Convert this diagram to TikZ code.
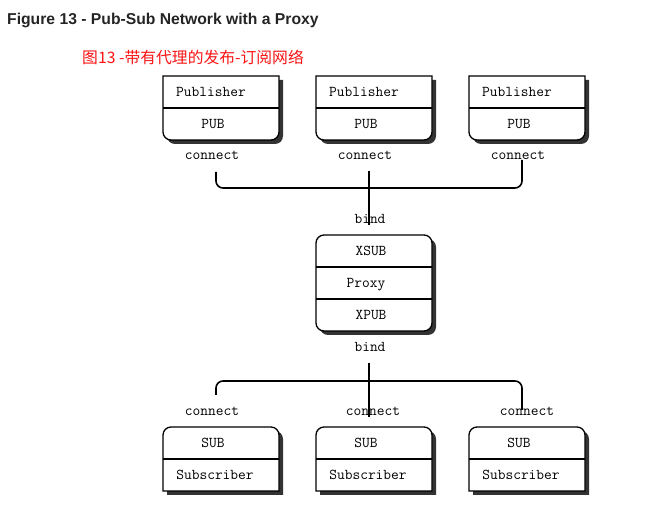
\documentclass[tikz,border=0pt]{standalone}
\usepackage{fontspec}
\setmainfont{Liberation Sans}
\newfontfamily\cjk{Noto Sans CJK SC}
\usetikzlibrary{positioning,calc}
\definecolor{inkgray}{RGB}{36,36,36}
\definecolor{cjkred}{RGB}{250,20,20}
\begin{document}
\begin{tikzpicture}[x=1pt, y=1pt,
  frame/.style={draw=black, line width=1.3pt, fill=white},
  shade/.style={fill=black!80, draw=none},
  cell/.style={font=\ttfamily\fontsize{15}{17}\selectfont, inner sep=0pt},
  lbl/.style={font=\ttfamily\fontsize{15}{17}\selectfont, inner sep=0pt},
  wire/.style={line width=1.6pt, rounded corners=7pt},
  stem/.style={line width=1.6pt}]
\useasboundingbox (0,0) rectangle (659,527);
% headings
\node[anchor=west, inner sep=0pt, font=\bfseries\fontsize{15.7}{18}\selectfont, text=inkgray] (title) at (7,507) {Figure 13 - Pub-Sub Network with a Proxy};
\node[anchor=west, inner sep=0pt, font=\cjk\fontsize{15.8}{18}\selectfont, text=cjkred] (subtitle) at (82,470) {图13 -带有代理的发布-订阅网络};
% publisher row
\foreach \x/\n in {163/1,316/2,469/3}{
  \fill[shade, xshift=4, yshift=-4] (\x,451) -- ++(116,0) -- ++(0,-56)
    arc[start angle=0, end angle=-90, radius=8] -- ++(-100,0)
    arc[start angle=270, end angle=180, radius=8] -- cycle;
  \draw[frame] (\x,451) -- ++(116,0) -- ++(0,-56)
    arc[start angle=0, end angle=-90, radius=8] -- ++(-100,0)
    arc[start angle=270, end angle=180, radius=8] -- cycle;
  \draw[frame] (\x,419) -- ++(116,0);
  \node[cell] (pubname\n) at (\x+48,435) {Publisher};
  \node[cell] (pubsock\n) at (\x+50,403) {PUB};
  \node[lbl] (pc\n) at (\x+49,372) {connect};
}
% proxy
\fill[shade, rounded corners=8, xshift=4, yshift=-4] (316,292) rectangle (432,196);
\draw[frame, rounded corners=8] (316,292) rectangle (432,196);
\draw[frame] (316,260) -- (432,260);
\draw[frame] (316,228) -- (432,228);
\node[cell] (xsub) at (371,276) {XSUB};
\node[cell] (proxy) at (366,242) {Proxy};
\node[cell] (xpub) at (371,212) {XPUB};
\node[lbl] (bindup) at (370,308) {bind};
\node[lbl] (binddn) at (370,180) {bind};
% subscriber row
\foreach \x/\n/\c in {163/1/212,316/2/373,469/3/527}{
  \fill[shade, xshift=4, yshift=-4] (\x,36) -- ++(116,0) -- ++(0,56)
    arc[start angle=0, end angle=90, radius=8] -- ++(-100,0)
    arc[start angle=90, end angle=180, radius=8] -- cycle;
  \draw[frame] (\x,36) -- ++(116,0) -- ++(0,56)
    arc[start angle=0, end angle=90, radius=8] -- ++(-100,0)
    arc[start angle=90, end angle=180, radius=8] -- cycle;
  \draw[frame] (\x,68) -- ++(116,0);
  \node[cell] (subsock\n) at (\x+50,84) {SUB};
  \node[cell] (subname\n) at (\x+52,52) {Subscriber};
  \node[lbl] (sc\n) at (\c,116) {connect};
}
% connectors
\draw[wire] ([shift={(4,-17)}]pc1.center) |- ([shift={(4,-33)}]pc3.center) -- ([shift={(4,-5)}]pc3.center);
\draw[stem] ([shift={(4,-16)}]pc2.center) -- ([shift={(-1,-6)}]bindup.center);
\draw[stem] ([shift={(-1,-16)}]binddn.center) -- ([shift={(-4,-6)}]sc2.center);
\draw[wire] ([shift={(4,16)}]sc1.center) |- ([shift={(-5,30)}]sc3.center) -- ([shift={(-5,1)}]sc3.center);
\end{tikzpicture}
\end{document}
